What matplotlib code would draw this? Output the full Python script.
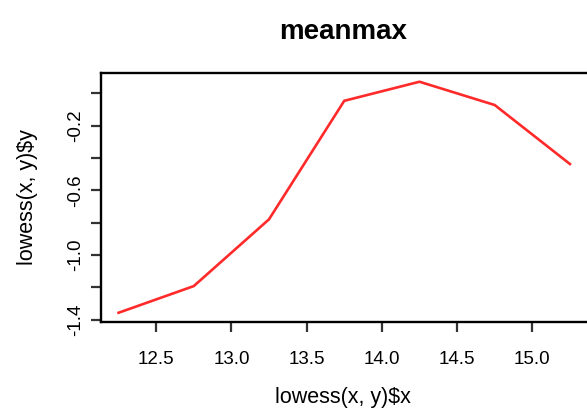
import numpy as np
import matplotlib.pyplot as plt

plt.rcParams['font.family'] = ['Liberation Sans', 'DejaVu Sans']

# smoothed curve (lowess output)
lx = [12.25, 12.75, 13.25, 13.75, 14.25, 14.75, 15.25]
ly = [-1.357, -1.192, -0.779, -0.046, 0.072, -0.072, -0.437]

xticks = [12.5, 13.0, 13.5, 14.0, 14.5, 15.0]
yticks = [-1.4, -1.2, -1.0, -0.8, -0.6, -0.4, -0.2, 0.0]
ylabels = ["-1.4", "", "-1.0", "", "-0.6", "", "-0.2", ""]

W, H = 587, 409
fig = plt.figure(figsize=(W / 100, H / 100), dpi=100)
ax = fig.add_axes([100.5 / W, (H - 322) / H, (588 - 100.5) / W, (322 - 72.5) / H])

ax.plot(lx, ly, color="#ff2a2a", lw=1.9)

# R style 4% padding
xr = max(lx) - min(lx)
yr = max(ly) - min(ly)
ax.set_xlim(min(lx) - 0.04 * xr, max(lx) + 0.04 * xr)
ax.set_ylim(min(ly) - 0.04 * yr, max(ly) + 0.04 * yr)

ax.set_xticks(xticks)
ax.set_xticklabels([f"{v:.1f}" for v in xticks])
ax.set_yticks(yticks)
ax.set_yticklabels(ylabels, rotation=90, va="center")

ax.tick_params(axis="both", length=7, width=1.6, labelsize=13.5, color="#333333")
ax.tick_params(axis="x", pad=14)
ax.tick_params(axis="y", pad=5)
for s in ax.spines.values():
    s.set_linewidth(1.7)

fig.text(343 / W, 1 - 32 / H, "meanmax", ha="center", va="center",
         fontsize=20, fontweight="bold")
fig.text(343 / W, 1.5 / H, "lowess(x, y)$x", ha="center", va="bottom",
         fontsize=15.5)
fig.text(28 / W, 1 - 197 / H, "lowess(x, y)$y", ha="center", va="center",
         fontsize=15.5, rotation=90)

fig.savefig("out.png", dpi=100)
